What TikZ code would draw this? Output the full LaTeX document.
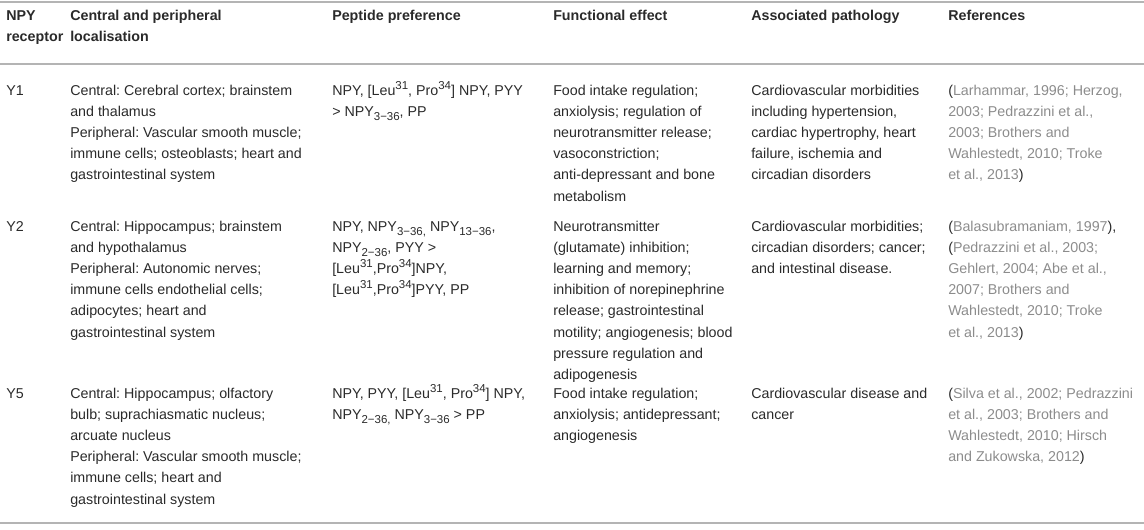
\documentclass[tikz,border=0pt]{standalone}
\usepackage{xcolor}
\usepackage{fontspec}
\setmainfont{Liberation Sans}
\usetikzlibrary{shapes,arrows,positioning}
\frenchspacing

\definecolor{txtgray}{HTML}{2A2A2A}
\definecolor{refgray}{HTML}{8C8C8C}
\definecolor{rulegray}{HTML}{B4B4B4}
\newcommand{\rf}[1]{\textcolor{refgray}{#1}}
\newcommand{\sub}[1]{\raisebox{-0.3em}{\fontsize{8.6}{8.6}\selectfont #1}}
\newcommand{\sups}[1]{\raisebox{0.42em}{\fontsize{8.6}{8.6}\selectfont #1}}

\begin{document}
\begin{tikzpicture}[x=0.75pt, y=-0.75pt]
% Define styles
\tikzstyle{cell} = [anchor=north west, inner sep=0pt, align=left, text=txtgray, font=\fontsize{10.7}{15.9}\selectfont]
\tikzstyle{head} = [cell, font=\fontsize{10.7}{15.9}\selectfont\bfseries]
\tikzstyle{rule} = [draw=rulegray, line width=1.5pt]
\useasboundingbox (0,0) rectangle (1144,529);

% Define nodes
\node (hrec) [head] at (6,5) {\strut NPY\\receptor};
\node (hloc) [head] at (70,5) {\strut Central and peripheral\\localisation};
\node (hpep) [head] at (332,5) {\strut Peptide preference};
\node (hfun) [head] at (553,5) {\strut Functional effect};
\node (hpat) [head] at (751,5) {\strut Associated pathology};
\node (href) [head] at (948,5) {\strut References};

\node (ya) [cell] at (6,80) {\strut Y1};
\node (ya-loc) [cell] at (70,80) {\strut Central: Cerebral cortex; brainstem\\and thalamus\\Peripheral: Vascular smooth muscle;\\immune cells; osteoblasts; heart and\\gastrointestinal system};
\node (ya-pep) [cell] at (332,80) {\strut NPY, [Leu\sups{31}, Pro\sups{34}] NPY, PYY\\> NPY\sub{3−36}, PP};
\node (ya-fun) [cell] at (553,80) {\strut Food intake regulation;\\anxiolysis; regulation of\\neurotransmitter release;\\vasoconstriction;\\anti-depressant and bone\\metabolism};
\node (ya-pat) [cell] at (751,80) {\strut Cardiovascular morbidities\\including hypertension,\\cardiac hypertrophy, heart\\failure, ischemia and\\circadian disorders};
\node (ya-ref) [cell] at (948,80) {\strut (\rf{Larhammar, 1996; Herzog,}\\\rf{2003; Pedrazzini et al.,}\\\rf{2003; Brothers and}\\\rf{Wahlestedt, 2010; Troke}\\\rf{et al., 2013})};

\node (yb) [cell] at (6,216) {\strut Y2};
\node (yb-loc) [cell] at (70,216) {\strut Central: Hippocampus; brainstem\\and hypothalamus\\Peripheral: Autonomic nerves;\\immune cells endothelial cells;\\adipocytes; heart and\\gastrointestinal system};
\node (yb-pep) [cell] at (332,216) {\strut NPY, NPY\sub{3−36,} NPY\sub{13−36},\\NPY\sub{2−36}, PYY >\\{[}Leu\sups{31},Pro\sups{34}]NPY,\\{[}Leu\sups{31},Pro\sups{34}]PYY, PP};
\node (yb-fun) [cell] at (553,216) {\strut Neurotransmitter\\(glutamate) inhibition;\\learning and memory;\\inhibition of norepinephrine\\release; gastrointestinal\\motility; angiogenesis; blood\\pressure regulation and\\adipogenesis};
\node (yb-pat) [cell] at (751,216) {\strut Cardiovascular morbidities;\\circadian disorders; cancer;\\and intestinal disease.};
\node (yb-ref) [cell] at (948,216) {\strut (\rf{Balasubramaniam, 1997}),\\(\rf{Pedrazzini et al., 2003;}\\\rf{Gehlert, 2004; Abe et al.,}\\\rf{2007; Brothers and}\\\rf{Wahlestedt, 2010; Troke}\\\rf{et al., 2013})};

\node (yc) [cell] at (6,383) {\strut Y5};
\node (yc-loc) [cell] at (70,383) {\strut Central: Hippocampus; olfactory\\bulb; suprachiasmatic nucleus;\\arcuate nucleus\\Peripheral: Vascular smooth muscle;\\immune cells; heart and\\gastrointestinal system};
\node (yc-pep) [cell] at (332,383) {\strut NPY, PYY, [Leu\sups{31}, Pro\sups{34}] NPY,\\NPY\sub{2−36,} NPY\sub{3−36} > PP};
\node (yc-fun) [cell] at (553,383) {\strut Food intake regulation;\\anxiolysis; antidepressant;\\angiogenesis};
\node (yc-pat) [cell] at (751,383) {\strut Cardiovascular disease and\\cancer};
\node (yc-ref) [cell] at (948,383) {\strut (\rf{Silva et al., 2002; Pedrazzini}\\\rf{et al., 2003; Brothers and}\\\rf{Wahlestedt, 2010; Hirsch}\\\rf{and Zukowska, 2012})};

% Draw rules
\draw [rule] (0,2) -- (1144,2);
\draw [rule, line width=1pt] (0,64) -- (1144,64);
\draw [rule] (0,523) -- (1144,523);
\end{tikzpicture}
\end{document}
